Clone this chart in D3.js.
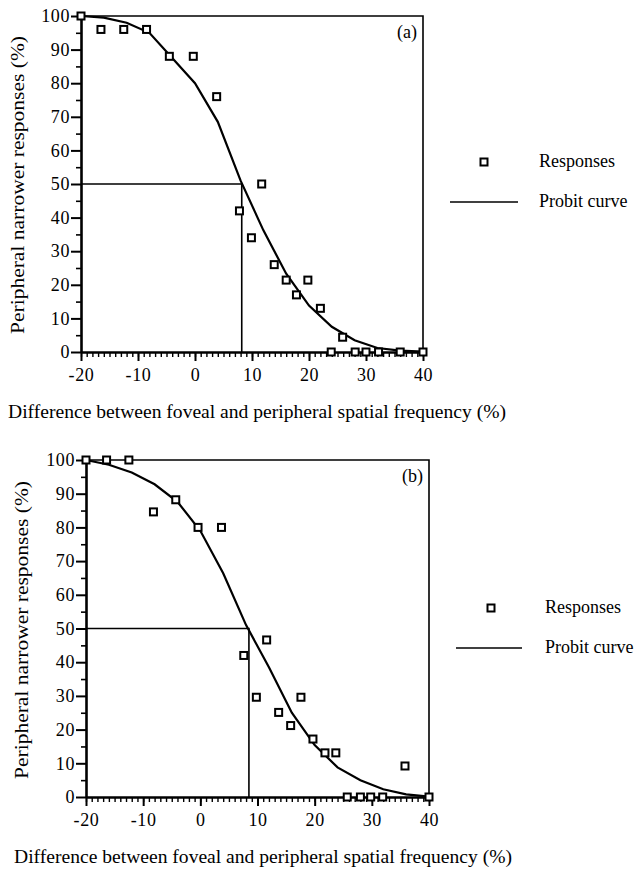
<!DOCTYPE html>
<html>
<head>
<meta charset="utf-8">
<script src="https://cdn.jsdelivr.net/npm/d3@7"></script>
<style>
  body { margin: 0; background: #fff; }
  svg { display: block; }
  text { font-family: "Liberation Serif", serif; fill: #000; }
</style>
</head>
<body>
<svg id="chart"></svg>
<script>
var width = 634, height = 871

// panel (a) responses
var xA = [-20, -16.5, -12.5, -8.5, -4.5, -0.3, 3.8, 7.8, 9.9, 11.7, 13.9, 16, 17.8, 19.8, 22, 23.9, 25.9, 28.1, 30, 32.2, 36, 40]
var yA = [100, 96, 96, 96, 88, 88, 76, 42, 34, 50, 26, 21.4, 17, 21.4, 13, 0, 4.4, 0, 0, 0, 0, 0]
// panel (a) probit curve
var curveXA = [-20, -16, -12, -8, -4, 0, 4, 8, 12, 16, 20, 24, 28, 32, 36, 40]
var curveYA = [100, 99.5, 98, 95, 87.5, 80, 68.5, 51, 36.2, 23.3, 13.8, 7.5, 3.5, 1.2, 0.4, 0.1]
var midA = 8.2

// panel (b) responses
var xB = [-20, -16.4, -12.5, -8.2, -4.3, -0.4, 3.7, 7.6, 9.8, 11.6, 13.7, 15.8, 17.6, 19.7, 21.8, 23.7, 25.7, 28, 29.8, 31.9, 35.8, 40]
var yB = [100, 100, 100, 84.6, 88.2, 80, 80, 42, 29.6, 46.6, 25.1, 21.2, 29.6, 17.2, 13.1, 13.1, 0, 0, 0, 0, 9.2, 0]
// panel (b) probit curve
var curveXB = [-20, -16, -12, -8, -4, 0, 4, 8, 12, 16, 20, 24, 28, 32, 36, 40]
var curveYB = [100, 98.6, 96.3, 92.8, 87.6, 79, 66.4, 51, 38.5, 25, 15.4, 8.8, 5, 2.3, 0.8, 0.1]
var midB = 8.5

var xTicks = [-20, -10, 0, 10, 20, 30, 40]
var yTicks = [0, 10, 20, 30, 40, 50, 60, 70, 80, 90, 100]
var yTitle = 'Peripheral narrower responses (%)'
var xTitle = 'Difference between foveal and peripheral spatial frequency (%)'
var legendLabels = ['Responses', 'Probit curve']

var svg = d3.select('#chart').attr('width', width).attr('height', height)
var serif = '"Liberation Serif", serif'
var fmt = function (d) { return String(d) }   // plain hyphen minus like the original

function drawPanel(p) {
    var x = d3.scaleLinear().domain([-20, 40]).range([p.left, p.right])
    var y = d3.scaleLinear().domain([0, 100]).range([p.bottom, p.top])
    var g = svg.append('g')

    // top and right border
    g.append('path')
        .attr('d', 'M' + x(-20) + ',' + y(100) + 'H' + x(40) + 'V' + y(0))
        .attr('fill', 'none').attr('stroke', '#000').attr('stroke-width', 1.6)

    // minor ticks
    g.append('g').attr('transform', 'translate(0,' + p.bottom + ')')
        .call(d3.axisBottom(x).ticks(60).tickSize(5).tickFormat(''))
        .call(s => s.select('.domain').remove())
        .selectAll('line').attr('stroke-width', 1.4)
    g.append('g').attr('transform', 'translate(' + p.left + ',0)')
        .call(d3.axisLeft(y).tickValues(d3.range(5, 100, 10)).tickSize(5).tickFormat(''))
        .call(s => s.select('.domain').remove())
        .selectAll('line').attr('stroke-width', 1.6)

    // major axes
    var xa = g.append('g').attr('transform', 'translate(0,' + p.bottom + ')')
        .call(d3.axisBottom(x).tickValues(xTicks).tickFormat(fmt).tickSize(9).tickPadding(7).tickSizeOuter(0))
    var ya = g.append('g').attr('transform', 'translate(' + p.left + ',0)')
        .call(d3.axisLeft(y).tickValues(yTicks).tickFormat(fmt).tickSize(10).tickPadding(1).tickSizeOuter(0))
    ;[xa, ya].forEach(function (a) {
        a.select('.domain').attr('stroke-width', 2.6)
        a.selectAll('.tick line').attr('stroke-width', 2)
        a.selectAll('text').style('font-family', serif).style('font-size', '18px')
            .attr('letter-spacing', 0.6)
    })

    // 50% reference lines
    g.append('path')
        .attr('d', 'M' + x(-20) + ',' + y(50) + 'H' + x(p.mid) + 'V' + y(0))
        .attr('fill', 'none').attr('stroke', '#000').attr('stroke-width', 1.6)

    // probit curve
    var line = d3.line().x(function (d) { return x(d[0]) }).y(function (d) { return y(d[1]) })
    g.append('path')
        .datum(d3.zip(p.cx, p.cy))
        .attr('d', line)
        .attr('fill', 'none').attr('stroke', '#000').attr('stroke-width', 2.2)

    // responses
    g.selectAll('rect.pt')
        .data(d3.zip(p.xs, p.ys))
        .enter()
        .append('rect')
        .attr('class', 'pt')
        .attr('x', function (d) { return x(d[0]) - 3.5 })
        .attr('y', function (d) { return y(d[1]) - 3.5 })
        .attr('width', 7).attr('height', 7)
        .attr('fill', '#fff').attr('stroke', '#000').attr('stroke-width', 2)

    g.append('text')
        .attr('x', x(40) - 6).attr('y', y(100) + 22)
        .attr('text-anchor', 'end').attr('font-size', 18)
        .text(p.label)

    // axis titles
    g.append('text')
        .attr('transform', 'translate(' + p.yTitleX + ',' + p.yTitleY + ') rotate(-90)')
        .attr('text-anchor', 'middle').attr('font-size', 19)
        .attr('textLength', 298).attr('lengthAdjust', 'spacingAndGlyphs')
        .text(yTitle)
    g.append('text')
        .attr('x', p.xTitleX).attr('y', p.xTitleY)
        .attr('font-size', 19)
        .attr('textLength', 498).attr('lengthAdjust', 'spacingAndGlyphs')
        .text(xTitle)

    // legend
    g.append('rect')
        .attr('x', p.legX - 3.5).attr('y', p.legY - 3.5)
        .attr('width', 7).attr('height', 7)
        .attr('fill', '#fff').attr('stroke', '#000').attr('stroke-width', 2)
    g.append('line')
        .attr('x1', p.lineX1).attr('x2', p.lineX2)
        .attr('y1', p.legY + p.legGap).attr('y2', p.legY + p.legGap)
        .attr('stroke', '#000').attr('stroke-width', 1.6)
    g.selectAll('text.leg')
        .data(legendLabels)
        .enter()
        .append('text')
        .attr('class', 'leg')
        .attr('x', p.legTextX)
        .attr('y', function (d, i) { return p.legY + i * p.legGap + 5 })
        .attr('font-size', 18)
        .text(function (d) { return d })
}

drawPanel({
    left: 81, right: 423, top: 16, bottom: 352,
    xs: xA, ys: yA, cx: curveXA, cy: curveYA, mid: midA, label: '(a)',
    yTitleX: 24, yTitleY: 185, xTitleX: 8, xTitleY: 418,
    legX: 484, legY: 162, legGap: 40, lineX1: 450, lineX2: 518, legTextX: 539
})
drawPanel({
    left: 86, right: 429, top: 460, bottom: 797,
    xs: xB, ys: yB, cx: curveXB, cy: curveYB, mid: midB, label: '(b)',
    yTitleX: 28, yTitleY: 630, xTitleX: 14, xTitleY: 863,
    legX: 491, legY: 608, legGap: 40, lineX1: 456, lineX2: 522, legTextX: 545
})
</script>
</body>
</html>
